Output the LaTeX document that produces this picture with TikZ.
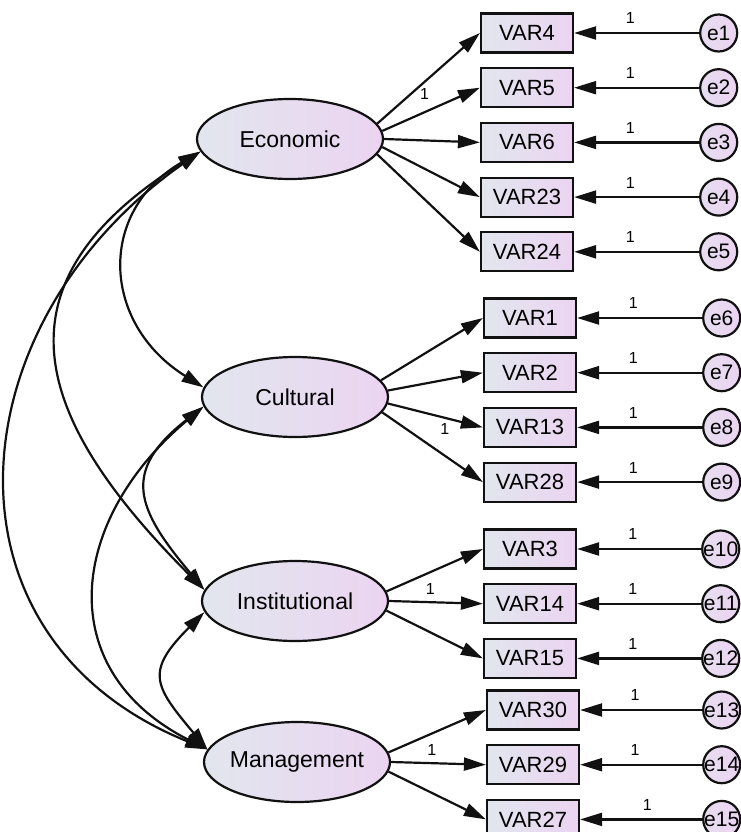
\documentclass[tikz,border=0pt]{standalone}
\usepackage{fontspec}
\setmainfont{Liberation Sans}
\usetikzlibrary{positioning,shapes.geometric,arrows.meta}
\definecolor{Outline}{HTML}{111111}
\definecolor{ShadeLeft}{HTML}{E2E6EE}
\definecolor{ShadeRight}{HTML}{EBD4F1}

\begin{document}
\begin{tikzpicture}[x=1pt,y=1pt,node distance=13.5pt,
	latent/.style={ellipse,draw=Outline,line width=2.2pt,left color=ShadeLeft,right color=ShadeRight,
		minimum width=186pt,minimum height=80pt,inner xsep=-3pt,inner ysep=0pt,font=\fontsize{23}{26}\selectfont},
	observed/.style={rectangle,draw=Outline,line width=2.2pt,left color=ShadeLeft,right color=ShadeRight,
		minimum width=92pt,minimum height=39pt,inner sep=0pt,font=\fontsize{22}{25}\selectfont},
	errvar/.style={circle,draw=Outline,line width=2.2pt,left color=ShadeLeft!50!ShadeRight,right color=ShadeRight,
		minimum size=37pt,inner sep=-3pt,font=\fontsize{21}{24}\selectfont},
	loading/.style={-{Triangle[length=22pt,width=13pt]},line width=2.2pt,draw=Outline},
	cov/.style={{Triangle[length=22pt,width=13pt]}-{Triangle[length=22pt,width=13pt]},line width=2.2pt,draw=Outline},
	fixed/.style={font=\fontsize{16}{18}\selectfont,inner sep=2pt}]

	\useasboundingbox (0,0) rectangle (741,-832);

	% ---------------------------------------------------------
	% LATENT FACTORS
	% ---------------------------------------------------------

	\node[latent] (econ) at (290,-139) {Economic};
	\node[latent] (cult) at (295,-397) {Cultural};
	\node[latent] (inst) at (295,-601) {Institutional};
	\node[latent] (mgmt) at (297,-762) {Management};

	% ---------------------------------------------------------
	% ECONOMIC ITEMS
	% ---------------------------------------------------------

	\node[observed] (v4) at (527,-33) {VAR4};
	\node[observed,below=of v4] (v5) {VAR5};
	\node[observed,below=of v5] (v6) {VAR6};
	\node[observed,below=of v6] (v23) {VAR23};
	\node[observed,below=of v23] (v24) {VAR24};

	\node[errvar,right=125pt of v4] (e1) {e1};
	\node[errvar,right=125pt of v5] (e2) {e2};
	\node[errvar,right=125pt of v6] (e3) {e3};
	\node[errvar,right=125pt of v23] (e4) {e4};
	\node[errvar,right=125pt of v24] (e5) {e5};

	% ---------------------------------------------------------
	% CULTURAL ITEMS
	% ---------------------------------------------------------

	\node[observed] (v1) at (530,-318) {VAR1};
	\node[observed,below=of v1] (v2) {VAR2};
	\node[observed,below=of v2] (v13) {VAR13};
	\node[observed,below=of v13] (v28) {VAR28};

	\node[errvar,right=125pt of v1] (e6) {e6};
	\node[errvar,right=125pt of v2] (e7) {e7};
	\node[errvar,right=125pt of v13] (e8) {e8};
	\node[errvar,right=125pt of v28] (e9) {e9};

	% ---------------------------------------------------------
	% INSTITUTIONAL ITEMS
	% ---------------------------------------------------------

	\node[observed] (v3) at (530,-549) {VAR3};
	\node[observed,below=of v3] (v14) {VAR14};
	\node[observed,below=of v14] (v15) {VAR15};

	\node[errvar,right=124pt of v3] (e10) {e10};
	\node[errvar,right=124pt of v14] (e11) {e11};
	\node[errvar,right=124pt of v15] (e12) {e12};

	% ---------------------------------------------------------
	% MANAGEMENT ITEMS
	% ---------------------------------------------------------

	\node[observed] (v30) at (533,-710) {VAR30};
	\node[observed,below=of v30] (v29) {VAR29};
	\node[observed,below=of v29] (v27) {VAR27};

	\node[errvar,right=122pt of v30] (e13) {e13};
	\node[errvar,right=122pt of v29] (e14) {e14};
	\node[errvar,right=122pt of v27] (e15) {e15};

	% ---------------------------------------------------------
	% LOADINGS
	% ---------------------------------------------------------

	\draw[loading] (econ.10) -- node[fixed,pos=0.46,below=3pt] {1} (v4.west);
	\draw[loading] (econ.5) -- (v5.west);
	\draw[loading] (econ.east) -- (v6.west);
	\draw[loading] (econ.-5) -- (v23.west);
	\draw[loading] (econ.-10) -- (v24.west);

	\draw[loading] (cult.11) -- (v1.west);
	\draw[loading] (cult.4) -- (v2.west);
	\draw[loading] (cult.-4) -- node[fixed,pos=0.6,below=3pt] {1} (v13.west);
	\draw[loading] (cult.-10) -- (v28.west);

	\draw[loading] (inst.6) -- (v3.west);
	\draw[loading] (inst.east) -- node[fixed,pos=0.44,above=5pt] {1} (v14.west);
	\draw[loading] (inst.-6) -- (v15.west);

	\draw[loading] (mgmt.6) -- (v30.west);
	\draw[loading] (mgmt.east) -- node[fixed,pos=0.43,above=5pt] {1} (v29.west);
	\draw[loading] (mgmt.-6) -- (v27.west);

	% ---------------------------------------------------------
	% ERROR TERMS
	% ---------------------------------------------------------

	\draw[loading] (e1) -- node[fixed,pos=0.55,above=6pt] {1} (v4);
	\draw[loading] (e2) -- node[fixed,pos=0.55,above=6pt] {1} (v5);
	\draw[loading] (e3) -- node[fixed,pos=0.55,above=6pt] {1} (v6);
	\draw[loading] (e4) -- node[fixed,pos=0.55,above=6pt] {1} (v23);
	\draw[loading] (e5) -- node[fixed,pos=0.55,above=6pt] {1} (v24);
	\draw[loading] (e6) -- node[fixed,pos=0.55,above=6pt] {1} (v1);
	\draw[loading] (e7) -- node[fixed,pos=0.55,above=6pt] {1} (v2);
	\draw[loading] (e8) -- node[fixed,pos=0.55,above=6pt] {1} (v13);
	\draw[loading] (e9) -- node[fixed,pos=0.55,above=6pt] {1} (v28);
	\draw[loading] (e10) -- node[fixed,pos=0.55,above=6pt] {1} (v3);
	\draw[loading] (e11) -- node[fixed,pos=0.55,above=6pt] {1} (v14);
	\draw[loading] (e12) -- node[fixed,pos=0.55,above=6pt] {1} (v15);
	\draw[loading] (e13) -- node[fixed,pos=0.55,above=6pt] {1} (v30);
	\draw[loading] (e14) -- node[fixed,pos=0.55,above=6pt] {1} (v29);
	\draw[loading] (e15) -- node[fixed,pos=0.45,above=6pt] {1} (v27);

	% ---------------------------------------------------------
	% COVARIANCES
	% ---------------------------------------------------------

	\draw[cov] (econ.188) to[out=210,in=148,looseness=1.3] (cult.174);
	\draw[cov] (econ.188) to[out=212,in=135,looseness=1.44] (inst.173);
	\draw[cov] (econ.188) to[out=215,in=158,looseness=1.28] (mgmt.172);
	\draw[cov] (cult.186) to[out=218,in=130,looseness=1.47] (inst.173);
	\draw[cov] (cult.186) to[out=220,in=153,looseness=1.31] (mgmt.172);
	\draw[cov] (inst.187) to[out=225,in=130,looseness=1.56] (mgmt.172);

\end{tikzpicture}
\end{document}
